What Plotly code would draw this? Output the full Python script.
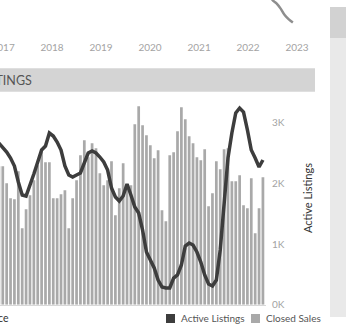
import plotly.graph_objects as go
import pandas as pd

# ---------------- data ----------------
months = pd.date_range("2017-07-01", "2023-03-01", freq="MS").strftime("%Y-%m").tolist()

closed_sales = [277, 277, 243, 213, 211, 267, 153, 191, 219, 249, 279, 309, 285, 285,
                213, 213, 221, 229, 153, 213, 249, 299, 329, 295, 323, 313, 263, 239,
                249, 287, 179, 233, 283, 239, 239, 361, 397, 359, 339, 319, 293, 309,
                189, 167, 299, 305, 347, 395, 371, 337, 323, 295, 289, 311, 197, 223,
                287, 271, 311, 313, 247, 247, 259, 199, 193, 253, 143, 193, 255]

active_listings = [2665, 2599, 2517, 2418, 2286, 2022, 1808, 1791, 1956, 2154, 2352, 2550,
                   2616, 2830, 2781, 2682, 2550, 2286, 2138, 2105, 2138, 2171, 2336, 2500,
                   2533, 2500, 2434, 2352, 2220, 1923, 1775, 1709, 1791, 1989, 1808, 1610,
                   1511, 1231, 868, 736, 604, 406, 291, 275, 275, 439, 489, 654, 967, 1016,
                   983, 868, 703, 489, 340, 307, 406, 901, 1643, 2418, 2830, 3160, 3242,
                   3176, 2880, 2550, 2418, 2270, 2385]

upper_months = ["2022-04-01", "2022-05-01", "2022-06-01", "2022-07-01", "2022-08-01",
                "2022-09-01", "2022-10-01", "2022-11-01", "2022-12-01"]
upper_values = [640, 590, 530, 476, 458, 432, 400, 378, 362]

year_ticks = ["2017-01-01", "2018-01-01", "2019-01-01", "2020-01-01",
              "2021-01-01", "2022-01-01", "2023-01-01"]
year_labels = ["2017", "2018", "2019", "2020", "2021", "2022", "2023"]

listing_ticks = [0, 1000, 2000, 3000]
listing_labels = ["0K", "1K", "2K", "3K"]

# ---------------- figure ----------------
W, H = 346, 327
def px(xp):
    return xp / W
def py(yp):
    return 1 - yp / H

FONT = "Lato"
BAR_C = "#a9a9a9"
LINE_C = "#3d3d3d"

fig = go.Figure()
fig.add_trace(go.Bar(x=months, y=closed_sales, name="Closed Sales",
                     marker=dict(color=BAR_C, line=dict(width=0)),
                     xaxis="x", yaxis="y", showlegend=False))
fig.add_trace(go.Scatter(x=months, y=active_listings, name="Active Listings", mode="lines",
                         line=dict(color=LINE_C, width=3.5),
                         xaxis="x", yaxis="y2", showlegend=False))
fig.add_trace(go.Scatter(x=upper_months, y=upper_values, mode="lines",
                         line=dict(color="#8e8e8e", width=2.5, shape="spline"),
                         xaxis="x2", yaxis="y3", showlegend=False))

fig.update_layout(
    width=W, height=H,
    margin=dict(l=0, r=0, t=0, b=0, autoexpand=False),
    paper_bgcolor="white", plot_bgcolor="rgba(0,0,0,0)",
    font=dict(family=FONT, size=10, color="#555"),
    bargap=0.3,
    xaxis=dict(domain=[0, px(266)], type="category", range=[0.283, 68.79], automargin=False,
               showticklabels=False, showgrid=False, zeroline=False,
               showline=True, linecolor="#d8d8d8", linewidth=1, anchor="y", ticks=""),
    yaxis=dict(domain=[py(304.65), py(95)], range=[0, 419.3], visible=False, anchor="x",
               automargin=False),
    yaxis2=dict(overlaying="y", side="right", anchor="x", range=[0, 3457], automargin=False,
                tickvals=listing_ticks, ticktext=listing_labels,
                showgrid=False, zeroline=False, showline=False,
                ticks="outside", ticklen=3, tickcolor="rgba(0,0,0,0)",
                ticklabeloverflow="allow",
                tickfont=dict(family=FONT, size=10, color="#a3a3a3")),
    xaxis2=dict(domain=[0, px(315)], anchor="y3", type="date", automargin=False,
                range=["2016-12-09", "2023-05-15"],
                tickvals=year_ticks, ticktext=year_labels,
                showgrid=False, zeroline=False, showline=False,
                ticks="outside", ticklen=3, tickcolor="rgba(0,0,0,0)",
                ticklabeloverflow="allow",
                tickfont=dict(family=FONT, size=10, color="#a3a3a3")),
    yaxis3=dict(domain=[py(35), 1], range=[300, 475], visible=False, anchor="x2",
                automargin=False),
)

shapes = [
    # section header band
    dict(type="rect", xref="paper", yref="paper", x0=0, x1=px(315), y0=py(91.7), y1=py(68.3),
         fillcolor="#d4d4d4", line=dict(width=0), layer="below"),
    # right side panel
    dict(type="rect", xref="paper", yref="paper", x0=px(330), x1=1, y0=py(38), y1=py(7),
         fillcolor="#d2d2d2", line=dict(width=0), layer="below"),
    dict(type="rect", xref="paper", yref="paper", x0=px(330), x1=1, y0=py(317), y1=py(38),
         fillcolor="#e9e9e9", line=dict(width=0), layer="below"),
    # legend swatches
    dict(type="rect", xref="paper", yref="paper", x0=px(166), x1=px(175), y0=py(323), y1=py(314),
         fillcolor=LINE_C, line=dict(width=0)),
    dict(type="rect", xref="paper", yref="paper", x0=px(251), x1=px(260), y0=py(323), y1=py(314),
         fillcolor=BAR_C, line=dict(width=0)),
]
fig.update_layout(shapes=shapes)

annotations = [
    dict(text="CLOSED SALES & ACTIVE LISTINGS", xref="paper", yref="paper",
         x=px(33.5), y=py(80.5), xanchor="right", yanchor="middle", showarrow=False,
         font=dict(family=FONT, size=12.5, color="#555")),
    dict(text="Active Listings", xref="paper", yref="paper", x=px(307), y=py(198),
         textangle=-90, xanchor="center", yanchor="middle", showarrow=False,
         font=dict(family=FONT, size=11, color="#333")),
    dict(text="Active Listings", xref="paper", yref="paper", x=px(179), y=py(317.5),
         xanchor="left", yanchor="middle", showarrow=False,
         font=dict(family=FONT, size=10, color="#555")),
    dict(text="Closed Sales", xref="paper", yref="paper", x=px(264), y=py(317.5),
         xanchor="left", yanchor="middle", showarrow=False,
         font=dict(family=FONT, size=10, color="#555")),
    dict(text="Source", xref="paper", yref="paper", x=px(11), y=py(317.5),
         xanchor="right", yanchor="middle", showarrow=False,
         font=dict(family=FONT, size=10.5, color="#333")),
]
fig.update_layout(annotations=annotations)

fig.write_html("out.html")
